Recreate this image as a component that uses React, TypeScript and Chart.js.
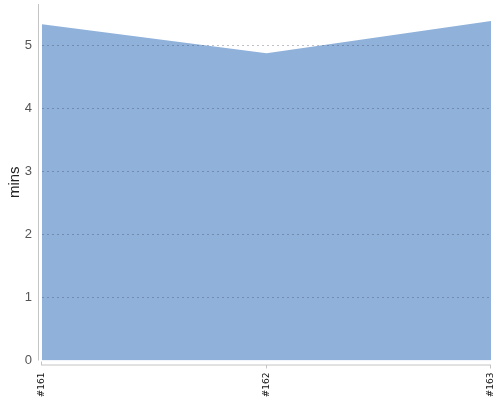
import React, { useEffect, useRef } from "react";
import { Chart, registerables } from "chart.js";

Chart.register(...registerables);

const categories = ["#161", "#162", "#163"];
const minutes = [5.33, 4.87, 5.38];
const yMax = 5.65;

export default function App() {
  const ref = useRef<HTMLCanvasElement | null>(null);

  useEffect(() => {
    if (!ref.current) return;
    const axisPlugin = {
      id: "customAxes",
      afterDraw(chart: any) {
        const { ctx, chartArea: a, scales } = chart;
        ctx.save();
        ctx.strokeStyle = "#c4c4c4";
        ctx.lineWidth = 1;
        ctx.beginPath();
        ctx.moveTo(a.left - 3.5, a.top);
        ctx.lineTo(a.left - 3.5, a.bottom);
        ctx.moveTo(a.left - 1, a.bottom + 4.5);
        ctx.lineTo(a.right, a.bottom + 4.5);
        ctx.moveTo(a.left - 0.5, a.bottom + 4.5);
        ctx.lineTo(a.left - 0.5, a.bottom + 1);
        for (let i = 1; i < categories.length; i++) {
          const x = Math.round(scales.x.getPixelForValue(i)) - 0.5;
          ctx.moveTo(x, a.bottom + 4.5);
          ctx.lineTo(x, a.bottom + 8);
        }
        ctx.stroke();
        ctx.restore();
      },
    };

    const chart = new Chart(ref.current, {
      type: "line",
      data: {
        labels: categories,
        datasets: [
          {
            data: minutes,
            fill: "origin",
            backgroundColor: "#8fb1da",
            borderWidth: 0,
            borderColor: "rgba(0,0,0,0)",
            pointRadius: 0,
            tension: 0,
          },
        ],
      },
      options: {
        animation: false,
        responsive: false,
        maintainAspectRatio: false,
        layout: { padding: { top: 4, right: 9, left: 0, bottom: 0 } },
        plugins: { legend: { display: false }, tooltip: { enabled: false } },
        scales: {
          x: {
            offset: false,
            grid: { display: false, drawTicks: false },
            border: { display: false },
            ticks: {
              autoSkip: false,
              minRotation: 90,
              maxRotation: 90,
              padding: 12,
              color: "#111",
              font: { family: "DejaVu Sans", size: 9 },
            },
            afterFit(scale: any) {
              scale.height = 39.5;
              scale.paddingLeft = 0;
              scale.paddingRight = 0;
            },
          },
          y: {
            min: 0,
            max: yMax,
            border: { display: false, dash: [2, 3] },
            grid: {
              z: 1,
              drawTicks: false,
              color: (c: any) => (c.tick && c.tick.value === 0 ? "rgba(0,0,0,0)" : "rgba(60,60,90,0.32)"),
              lineWidth: 1,
            },
            ticks: {
              stepSize: 1,
              includeBounds: false,
              padding: 10,
              color: "#555",
              font: { family: "Liberation Sans", size: 13 },
            },
            title: {
              display: true,
              text: "mins",
              color: "#222",
              padding: { top: 6, bottom: 0 },
              font: { family: "Liberation Sans", size: 15 },
            },
            afterFit(scale: any) {
              scale.width = 42;
              scale.paddingTop = 0;
              scale.paddingBottom = 0;
            },
          },
        },
      },
      plugins: [axisPlugin],
    } as any);

    return () => chart.destroy();
  }, []);

  return (
    <div style={{ position: "fixed", left: 0, top: 0, width: 500, height: 400, background: "#fff" }}>
      <canvas ref={ref} width={500} height={400} style={{ width: 500, height: 400 }} />
    </div>
  );
}
